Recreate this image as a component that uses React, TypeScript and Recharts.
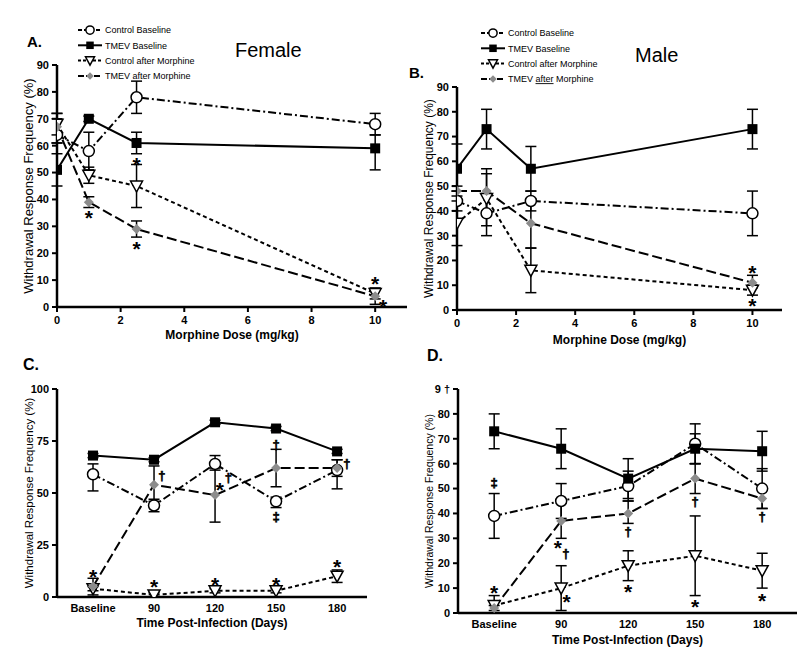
import React from 'react';
import { ComposedChart, Line, XAxis, YAxis, ErrorBar, Legend, ReferenceDot } from 'recharts';

const FONT = "'Liberation Sans', Arial, Helvetica, sans-serif";

// panel A / B : morphine dose response
const doses = [0, 1, 2.5, 10];
const doseTicks = [0, 2, 4, 6, 8, 10];
const pctTicks = [0, 10, 20, 30, 40, 50, 60, 70, 80, 90];

const femaleControlBaseline = [64, 58, 78, 68];
const femaleControlBaselineErr = [[3, 8], [7, 7], [6, 6], [4, 4]];
const femaleTmevBaseline = [51, 70, 61, 59];
const femaleTmevBaselineErr = [[6, 6], [1, 1], [4, 4], [8, 5]];
const femaleControlMorphine = [68, 49, 45, 5];
const femaleControlMorphineErr = [[7, 4], [3, 3], [8, 8], [2, 2]];
const femaleTmevMorphine = [67, 39, 29, 4];
const femaleTmevMorphineErr = [[3, 3], [2, 2], [3, 3], [3, 3]];
const femaleMarks = [
  { x: 1, y: 35, t: '*' },
  { x: 2.5, y: 54.5, t: '*' },
  { x: 2.5, y: 23.5, t: '*' },
  { x: 10, y: 10.5, t: '*' },
  { x: 10.25, y: 2, t: '*' },
];

const maleControlBaseline = [44, 39, 44, 39];
const maleControlBaselineErr = [[4, 4], [9, 8], [4, 4], [9, 9]];
const maleTmevBaseline = [57, 73, 57, 73];
const maleTmevBaselineErr = [[9, 10], [8, 8], [9, 9], [8, 8]];
const maleControlMorphine = [35, 45, 16, 8];
const maleControlMorphineErr = [[9, 9], [11, 10], [9, 9], [2, 2]];
const maleTmevMorphine = [48, 48, 35, 11];
const maleTmevMorphineErr = [[2, 2], [8, 9], [10, 10], [2, 3]];
const maleMarks = [
  { x: 10, y: 17, t: '*' },
  { x: 10, y: 3.5, t: '*' },
];

// panel C / D : time course
const timepoints = ['Baseline', '90', '120', '150', '180'];
const timeIdx = timepoints.map((_, i) => i);
const pctTicksC = [0, 25, 50, 75, 100];

const cControlBaseline = [59, 44, 64, 46, 61];
const cControlBaselineErr = [[8, 5], [3, 3], [3, 4], [3, 2], [3, 5]];
const cTmevBaseline = [68, 66, 84, 81, 70];
const cTmevBaselineErr = [[1, 1], [1, 1], [1, 1], [1, 1], [1, 1]];
const cControlMorphine = [4, 1, 3, 3, 10];
const cControlMorphineErr = [[1, 1], [1, 1], [1, 1], [1, 1], [3, 3]];
const cTmevMorphine = [5, 54, 49, 62, 62];
const cTmevMorphineErr = [[4, 4], [8, 9], [13, 13], [9, 9], [10, 4]];
const cMarks = [
  { x: 0, y: 12, t: '*' },
  { x: 1, y: 7, t: '*' },
  { x: 2, y: 8, t: '*' },
  { x: 3, y: 8, t: '*' },
  { x: 4, y: 17, t: '*' },
  { x: 1.13, y: 58, t: '†' },
  { x: 2.08, y: 54, t: '*' },
  { x: 2.22, y: 57, t: '†' },
  { x: 3, y: 73, t: '†' },
  { x: 3, y: 38.5, t: '‡' },
  { x: 4.16, y: 64, t: '†' },
];

const dControlBaseline = [39, 45, 51, 68, 50];
const dControlBaselineErr = [[9, 9], [7, 7], [6, 6], [8, 8], [8, 8]];
const dTmevBaseline = [73, 66, 54, 66, 65];
const dTmevBaselineErr = [[7, 7], [8, 8], [8, 8], [6, 6], [8, 8]];
const dControlMorphine = [3, 10, 19, 23, 17];
const dControlMorphineErr = [[3, 4], [9, 9], [6, 6], [16, 16], [7, 7]];
const dTmevMorphine = [2, 37, 40, 54, 46];
const dTmevMorphineErr = [[1, 1], [7, 7], [4, 5], [6, 6], [4, 4]];
const dMarks = [
  { x: 0, y: 10, t: '*' },
  { x: 0, y: 52, t: '‡' },
  { x: 0.95, y: 28, t: '*' },
  { x: 1.07, y: 23.5, t: '†' },
  { x: 1.08, y: 6.5, t: '*' },
  { x: 2, y: 32.5, t: '†' },
  { x: 2, y: 10.5, t: '*' },
  { x: 3, y: 44.5, t: '†' },
  { x: 3, y: 4.5, t: '*' },
  { x: 4, y: 38.5, t: '†' },
  { x: 4, y: 7, t: '*' },
];

const buildRows = (xs: number[], cb: number[], cbE: number[][], tb: number[], tbE: number[][],
  cam: number[], camE: number[][], tam: number[], tamE: number[][]) =>
  xs.map((x, i) => ({
    x, cb: cb[i], cbE: cbE[i], tb: tb[i], tbE: tbE[i],
    cam: cam[i], camE: camE[i], tam: tam[i], tamE: tamE[i],
  }));

const rowsA = buildRows(doses, femaleControlBaseline, femaleControlBaselineErr, femaleTmevBaseline, femaleTmevBaselineErr,
  femaleControlMorphine, femaleControlMorphineErr, femaleTmevMorphine, femaleTmevMorphineErr);
const rowsB = buildRows(doses, maleControlBaseline, maleControlBaselineErr, maleTmevBaseline, maleTmevBaselineErr,
  maleControlMorphine, maleControlMorphineErr, maleTmevMorphine, maleTmevMorphineErr);
const rowsC = buildRows(timeIdx, cControlBaseline, cControlBaselineErr, cTmevBaseline, cTmevBaselineErr,
  cControlMorphine, cControlMorphineErr, cTmevMorphine, cTmevMorphineErr);
const rowsD = buildRows(timeIdx, dControlBaseline, dControlBaselineErr, dTmevBaseline, dTmevBaselineErr,
  dControlMorphine, dControlMorphineErr, dTmevMorphine, dTmevMorphineErr);

const series = [
  { key: 'cb', name: 'Control Baseline', marker: 'circle', dash: '8 3 2 3', legendDash: '4 2' },
  { key: 'tb', name: 'TMEV Baseline', marker: 'square', dash: undefined, legendDash: undefined },
  { key: 'cam', name: 'Control after Morphine', marker: 'triangle', dash: '4 3', legendDash: '3 2' },
  { key: 'tam', name: 'TMEV after Morphine', marker: 'diamond', dash: '10 4', legendDash: '6 2' },
];

const Marker = ({ kind, cx, cy, s = 1 }: { kind: string; cx: number; cy: number; s?: number }) => {
  if (cx == null || cy == null) return null;
  if (kind === 'circle')
    return <circle cx={cx} cy={cy} r={5.5 * s} fill="#fff" stroke="#000" strokeWidth={1.5} />;
  if (kind === 'square')
    return <rect x={cx - 5 * s} y={cy - 5 * s} width={10 * s} height={10 * s} fill="#000" />;
  if (kind === 'triangle')
    return <path d={`M${cx - 6 * s},${cy - 5 * s}L${cx + 6 * s},${cy - 5 * s}L${cx},${cy + 6 * s}Z`}
      fill="#fff" stroke="#000" strokeWidth={1.5} />;
  return <path d={`M${cx},${cy - 5 * s}L${cx + 5 * s},${cy}L${cx},${cy + 5 * s}L${cx - 5 * s},${cy}Z`} fill="#8c8c8c" />;
};

const Glyph = ({ cx, cy, t }: { cx: number; cy: number; t: string }) => {
  const star = t === '*';
  const fs = star ? 21 : 13;
  return (
    <text x={cx} y={cy + (star ? 0.57 : 0.3) * fs} textAnchor="middle" fontSize={fs}
      fontWeight={700} fontFamily={FONT} fill="#000" stroke="#000" strokeWidth={star ? 0 : 0.6}>{t}</text>
  );
};

const LegendBox = ({ underline }: { underline?: boolean }) => (
  <svg width={130} height={64} style={{ overflow: 'visible' }}>
    {series.map((s, i) => {
      const y = 8 + i * 15.3;
      return (
        <g key={s.key}>
          <line x1={0} x2={24} y1={y} y2={y} stroke="#000" strokeWidth={2} strokeDasharray={s.legendDash} />
          <Marker kind={s.marker} cx={12} cy={y} s={0.75} />
          <text x={27} y={y + 3.3} fontSize={9} fontFamily={FONT} fill="#000">
            {underline && s.key === 'tam'
              ? <>TMEV <tspan textDecoration="underline">after</tspan> Morphine</>
              : s.name}
          </text>
        </g>
      );
    })}
  </svg>
);

const axisLine = { stroke: '#000', strokeWidth: 2.5 };
const tickLine = { stroke: '#000', strokeWidth: 2 };
const tickStyle = { fill: '#000', fontSize: 11, fontWeight: 700, fontFamily: FONT };

type PanelProps = {
  left: number; top: number; width: number; height: number;
  margin: { top: number; right: number; bottom: number; left: number };
  yWidth: number; rows: any[]; marks: { x: number; y: number; t: string }[];
  xDomain: number[]; xTicks: number[]; xFormat?: (v: number) => string; xTickLine: boolean;
  yDomain: number[]; yTicks: number[]; yFormat?: (v: number) => string;
  xTitle: string; xTitleOffset: number; yLabelSize: number;
  legend?: { left: number; top: number; underline?: boolean };
};

const Panel = (p: PanelProps) => (
  <div style={{ position: 'absolute', left: p.left, top: p.top }}>
    <ComposedChart width={p.width} height={p.height} data={p.rows} margin={p.margin}>
      <XAxis dataKey="x" type="number" domain={p.xDomain} ticks={p.xTicks} tickFormatter={p.xFormat}
        allowDataOverflow interval={0} height={40} axisLine={axisLine}
        tickLine={p.xTickLine ? tickLine : false} tickSize={p.xTickLine ? 5 : 0} tickMargin={p.xTickLine ? 4 : 7}
        tick={tickStyle}
        label={{ value: p.xTitle, position: 'insideBottom', offset: p.xTitleOffset, fill: '#000',
          fontSize: 12, fontWeight: 700, fontFamily: FONT }} />
      <YAxis type="number" domain={p.yDomain} ticks={p.yTicks} tickFormatter={p.yFormat} allowDataOverflow
        interval={0} width={p.yWidth} axisLine={axisLine} tickLine={tickLine} tickSize={5} tickMargin={3}
        tick={tickStyle}
        label={{ value: 'Withdrawal Response Frequency (%)', angle: -90, position: 'center', fill: '#000',
          fontSize: p.yLabelSize, fontFamily: FONT }} />
      {p.legend && (
        <Legend layout="vertical" align="center" verticalAlign="middle"
          wrapperStyle={{ left: p.legend.left, top: p.legend.top, width: 130 }}
          content={() => <LegendBox underline={p.legend?.underline} />} />
      )}
      {series.map((s) => (
        <Line key={s.key} dataKey={s.key} name={s.name} stroke="#000" strokeWidth={2}
          strokeDasharray={s.dash} isAnimationActive={false} activeDot={false}
          dot={(d: any) => <Marker key={`${s.key}-${d.index}`} kind={s.marker} cx={d.cx} cy={d.cy} />}>
          <ErrorBar dataKey={`${s.key}E`} direction="y" width={5.5} stroke="#000" strokeWidth={1.5}
            isAnimationActive={false} />
        </Line>
      ))}
      {p.marks.map((m, i) => (
        <ReferenceDot key={`m${i}`} x={m.x} y={m.y} r={0} ifOverflow="visible"
          shape={(d: any) => <Glyph cx={d.cx} cy={d.cy} t={m.t} />} />
      ))}
    </ComposedChart>
  </div>
);

const heading = (text: string, left: number, top: number, size: number, bold: boolean) => (
  <div style={{ position: 'absolute', left, top, fontSize: size, lineHeight: 1, fontWeight: bold ? 700 : 400,
    fontFamily: FONT, color: '#000', whiteSpace: 'nowrap' }}>{text}</div>
);

const App = () => (
  <div style={{ position: 'absolute', left: 0, top: 0, width: 800, height: 654, background: '#fff', overflow: 'hidden' }}>
    <Panel left={0} top={0} width={420} height={350} margin={{ top: 65, right: 13, bottom: 3, left: 0 }}
      yWidth={57} rows={rowsA} marks={femaleMarks} xDomain={[0, 11]} xTicks={doseTicks} xTickLine
      yDomain={[0, 90]} yTicks={pctTicks} xTitle="Morphine Dose (mg/kg)" xTitleOffset={8} yLabelSize={13}
      legend={{ left: 78, top: 22 }} />
    <Panel left={400} top={0} width={400} height={350} margin={{ top: 87, right: 18, bottom: 0, left: 0 }}
      yWidth={57} rows={rowsB} marks={maleMarks} xDomain={[0, 11]} xTicks={doseTicks} xTickLine
      yDomain={[0, 90]} yTicks={pctTicks} xTitle="Morphine Dose (mg/kg)" xTitleOffset={6} yLabelSize={12}
      legend={{ left: 81, top: 25, underline: true }} />
    <Panel left={0} top={330} width={400} height={324} margin={{ top: 59, right: 33, bottom: 17, left: 0 }}
      yWidth={57} rows={rowsC} marks={cMarks} xDomain={[-0.59, 4.49]} xTicks={timeIdx}
      xFormat={(v) => timepoints[v]} xTickLine={false} yDomain={[0, 100]} yTicks={pctTicksC}
      xTitle="Time Post-Infection (Days)" xTitleOffset={10} yLabelSize={11.5} />
    <Panel left={400} top={330} width={400} height={324} margin={{ top: 59, right: 3, bottom: 1, left: 0 }}
      yWidth={58} rows={rowsD} marks={dMarks} xDomain={[-0.54, 4.52]} xTicks={timeIdx}
      xFormat={(v) => timepoints[v]} xTickLine={false} yDomain={[0, 90]} yTicks={pctTicks}
      yFormat={(v) => (v === 90 ? '9 †' : String(v))}
      xTitle="Time Post-Infection (Days)" xTitleOffset={9} yLabelSize={10.5} />
    {heading('A.', 27, 34, 15, true)}
    {heading('Female', 235, 40, 20, false)}
    {heading('B.', 409, 65, 15, true)}
    {heading('Male', 635, 45, 20, false)}
    {heading('C.', 23, 357, 16, true)}
    {heading('D.', 427, 348, 16, true)}
  </div>
);

export default App;
